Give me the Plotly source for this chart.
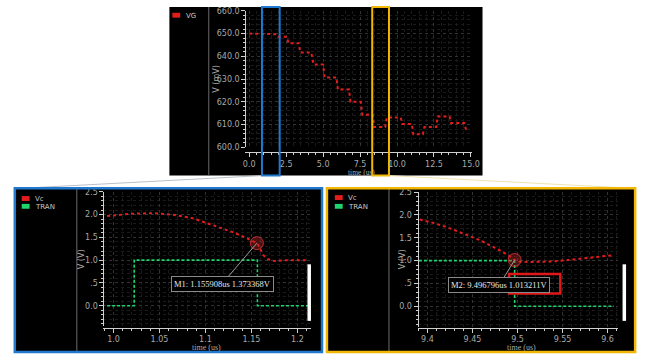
import plotly.graph_objects as go

W, H = 652, 360

# ---------------- data ----------------
vg_time = [0.0, 1.85, 1.95, 2.55, 2.65, 3.35, 3.45, 4.2, 4.35, 5.0, 5.1, 5.9, 6.0, 6.75, 6.85,
           7.55, 7.65, 8.35, 8.45, 9.2, 9.3, 10.25, 10.35, 11.0, 11.1, 11.75, 11.85, 12.65, 12.75,
           13.55, 13.65, 14.55, 14.7]
vg_mv = [650.0, 649.7, 648.6, 648.6, 645.7, 645.7, 641.7, 641.7, 636.4, 636.4, 630.7, 630.7, 625.4,
         625.4, 620.0, 620.0, 614.3, 614.3, 608.9, 608.9, 613.1, 613.1, 610.3, 610.3, 605.7, 605.7,
         608.9, 608.9, 613.6, 613.6, 610.7, 610.7, 606.9]

vc1_t = [0.993, 1.005, 1.021, 1.043, 1.064, 1.086, 1.107, 1.129, 1.143, 1.1559, 1.159, 1.1625,
         1.168, 1.175, 1.189, 1.212]
vc1_v = [1.97, 1.99, 2.02, 2.03, 2.0, 1.92, 1.78, 1.62, 1.5, 1.373, 1.28, 1.12, 1.02, 0.98, 1.0, 1.0]
tran1_t = [0.993, 1.0225, 1.0225, 1.1565, 1.1565, 1.212]
tran1_v = [0, 0, 1, 1, 0, 0]

vc2_t = [9.385, 9.404, 9.422, 9.44, 9.458, 9.476, 9.491, 9.4968, 9.502, 9.516, 9.538, 9.56,
         9.582, 9.607]
vc2_v = [1.93, 1.84, 1.73, 1.59, 1.45, 1.27, 1.10, 1.013, 0.975, 0.97, 0.98, 1.02, 1.07, 1.12]
tran2_t = [9.385, 9.4968, 9.4968, 9.607]
tran2_v = [1, 1, 0, 0]

m1 = (1.155908, 1.373368)
m2 = (9.496796, 1.013211)
m1_text = "M1: 1.155908us 1.373368V"
m2_text = "M2: 9.496796us 1.013211V"

top_xticks = [0, 2.5, 5, 7.5, 10, 12.5, 15]
top_xtext = ["0.0", "2.5", "5.0", "7.5", "10.0", "12.5", "15.0"]
top_yticks = [600, 610, 620, 630, 640, 650, 660]
top_ytext = ["600.0", "610.0", "620.0", "630.0", "640.0", "650.0", "660.0"]
l_xticks = [1.0, 1.05, 1.1, 1.15, 1.2]
l_xtext = ["1.0", "1.05", "1.1", "1.15", "1.2"]
r_xticks = [9.4, 9.45, 9.5, 9.55, 9.6]
r_xtext = ["9.4", "9.45", "9.5", "9.55", "9.6"]
b_yticks = [0, 0.5, 1.0, 1.5, 2.0, 2.5]
b_ytext = ["0.0", ".5", "1.0", "1.5", "2.0", "2.5"]

RED = "#e31c1c"
GREEN = "#1fd46c"
BLUE = "#2079cf"
ORANGE = "#f2b705"
FONT = "DejaVu Sans"
SERIF = "Liberation Serif"

def px(x):
    return x / W

def py(y):
    return 1 - y / H

fig = go.Figure()
fig.add_trace(go.Scatter(x=vg_time, y=vg_mv, mode="lines", line=dict(color=RED, width=2, dash="dot"),
                         xaxis="x", yaxis="y"))
fig.add_trace(go.Scatter(x=tran1_t, y=tran1_v, mode="lines", line=dict(color=GREEN, width=1.6, dash="3px,2px"),
                         xaxis="x2", yaxis="y2"))
fig.add_trace(go.Scatter(x=vc1_t, y=vc1_v, mode="lines", line=dict(color=RED, width=2, dash="dot"),
                         xaxis="x2", yaxis="y2"))
fig.add_trace(go.Scatter(x=tran2_t, y=tran2_v, mode="lines", line=dict(color=GREEN, width=1.6, dash="3px,2px"),
                         xaxis="x3", yaxis="y3"))
fig.add_trace(go.Scatter(x=vc2_t, y=vc2_v, mode="lines", line=dict(color=RED, width=2, dash="dot"),
                         xaxis="x3", yaxis="y3"))
for (mx, my), xa, ya in [(m1, "x2", "y2"), (m2, "x3", "y3")]:
    fig.add_trace(go.Scatter(x=[mx], y=[my], mode="markers", xaxis=xa, yaxis=ya,
                             marker=dict(size=13, color="rgba(190,40,40,0.40)",
                                         line=dict(color="rgba(220,60,60,0.8)", width=1))))

def axstyle(tickvals, ticktext, minor_dtick, rng, domain, **kw):
    d = dict(range=rng, domain=domain, tickmode="array", tickvals=tickvals, ticktext=ticktext,
             showline=True, linecolor="#d0d0d0", linewidth=1, ticks="outside", ticklen=4,
             tickcolor="#d0d0d0", tickfont=dict(family=FONT, size=8, color="#a8a8a8"),
             showgrid=True, gridcolor="#333333", griddash="dot", gridwidth=1, zeroline=False,
             minor=dict(tickmode="linear", tick0=0, dtick=minor_dtick, ticks="outside", ticklen=2,
                        tickcolor="#d0d0d0", showgrid=True, gridcolor="#1a1a1a", griddash="dot"),
             fixedrange=True)
    d.update(kw)
    return d

fig.update_layout(
    xaxis=axstyle(top_xticks, top_xtext, 0.5, [-0.27, 15.05], [px(247), px(477)],
                  anchor="free", position=py(152)),
    yaxis=axstyle(top_yticks, top_ytext, 2, [600, 660], [py(147), py(7)],
                  anchor="free", position=px(247)),
    xaxis2=axstyle(l_xticks, l_xtext, 0.01, [0.989, 1.215], [px(103), px(314)],
                   anchor="free", position=py(332)),
    yaxis2=axstyle(b_yticks, b_ytext, 0.1, [-0.45, 2.5], [py(330.5), py(192.6)],
                   anchor="free", position=px(103)),
    xaxis3=axstyle(r_xticks, r_xtext, 0.01, [9.389, 9.612], [px(422), px(626)],
                   anchor="free", position=py(332)),
    yaxis3=axstyle(b_yticks, b_ytext, 0.1, [-0.45, 2.5], [py(331), py(193)],
                   anchor="free", position=px(422)),
)

shapes = []
for x0, y0, x1, y1 in [(170, 3, 488, 176), (13, 189, 325, 358), (330, 189, 643, 358)]:
    shapes.append(dict(type="rect", xref="paper", yref="paper", x0=px(x0), x1=px(x1), y0=py(y1), y1=py(y0),
                       fillcolor="#000000", line=dict(width=0), layer="below"))
for x, y0, y1 in [(210, 3, 176), (76, 189, 358), (393, 189, 358)]:
    shapes.append(dict(type="line", xref="paper", yref="paper", x0=px(x), x1=px(x), y0=py(y0), y1=py(y1),
                       line=dict(color="#6a6a6a", width=1), layer="below"))
shapes.append(dict(type="line", xref="paper", yref="paper", x0=px(264), y0=py(176), x1=px(20), y1=py(189),
                   line=dict(color="#b8c0c8", width=1)))
shapes.append(dict(type="line", xref="paper", yref="paper", x0=px(393), y0=py(176), x1=px(640), y1=py(189),
                   line=dict(color="#f0e2b0", width=1)))
for x0, y0, col in [(173, 9, RED), (20, 197, RED), (20, 205, GREEN), (338, 196, RED), (338, 205, GREEN)]:
    shapes.append(dict(type="rect", xref="paper", yref="paper", x0=px(x0), x1=px(x0 + 8), y0=py(y0 + 5),
                       y1=py(y0), fillcolor=col, line=dict(width=0)))
for x in [312, 632]:
    shapes.append(dict(type="line", xref="paper", yref="paper", x0=px(x), x1=px(x), y0=py(267), y1=py(325),
                       line=dict(color="#ffffff", width=3.5)))
shapes.append(dict(type="rect", xref="paper", yref="paper", x0=px(264), x1=px(282), y0=py(176), y1=py(3),
                   line=dict(color=BLUE, width=2)))
shapes.append(dict(type="rect", xref="paper", yref="paper", x0=px(376), x1=px(393), y0=py(176), y1=py(3),
                   line=dict(color=ORANGE, width=2)))
shapes.append(dict(type="rect", xref="paper", yref="paper", x0=px(13), x1=px(325), y0=py(357), y1=py(189),
                   line=dict(color=BLUE, width=2.5)))
shapes.append(dict(type="rect", xref="paper", yref="paper", x0=px(330), x1=px(643), y0=py(357), y1=py(189),
                   line=dict(color=ORANGE, width=2.5)))
shapes.append(dict(type="rect", xref="paper", yref="paper", x0=px(515), x1=px(567), y0=py(297), y1=py(277),
                   line=dict(color="#e01818", width=2.5)))

ann = []
def txt(x, y, s, size=8, color="#c8c8c8", angle=0, xanchor="left", family=FONT):
    ann.append(dict(xref="paper", yref="paper", x=px(x), y=py(y), text=s, showarrow=False,
                    xanchor=xanchor, yanchor="middle", textangle=angle,
                    font=dict(family=family, size=size, color=color)))

txt(185, 12, "VG", size=7)
txt(31, 199.5, "Vc", size=7)
txt(31, 208, "TRAN", size=7)
txt(349, 198.5, "Vc", size=7)
txt(349, 208, "TRAN", size=7)
txt(217, 77, "V (mV)", angle=-90, xanchor="center", color="#a8a8a8")
txt(365, 173, "time (us)", size=7.5, xanchor="center", color="#a8a8a8", family=SERIF)
txt(81, 262, "V (V)", angle=-90, xanchor="center", color="#a8a8a8")
txt(208, 352, "time (us)", size=8, xanchor="center", color="#a8a8a8", family=SERIF)
txt(407, 262, "V (V)", angle=-90, xanchor="center", color="#a8a8a8")
txt(528, 352, "time (us)", size=8, xanchor="center", color="#a8a8a8", family=SERIF)

for m, xa, ya, tx, ty, t in [(m1, "x2", "y2", 1.118, 0.48, m1_text), (m2, "x3", "y3", 9.48, 0.47, m2_text)]:
    ann.append(dict(xref=xa, yref=ya, x=m[0], y=m[1], axref=xa, ayref=ya, ax=tx, ay=ty,
                    text=t, showarrow=True, arrowhead=0, arrowcolor="#9a9a9a", arrowwidth=1,
                    font=dict(family=SERIF, size=8.5, color="#e8e8e8"), bgcolor="#000000",
                    bordercolor="#8a8a8a", borderwidth=1, borderpad=2))

fig.update_layout(autosize=True, margin=dict(l=0, r=0, t=0, b=0),
                  paper_bgcolor="#ffffff", plot_bgcolor="rgba(0,0,0,0)", showlegend=False,
                  shapes=shapes, annotations=ann)

post = ("var s=document.createElement('style');"
        "s.textContent='html,body{margin:0;padding:0;overflow:hidden;}';"
        "document.head.appendChild(s);"
        "var d=document.getElementById('{plot_id}');"
        "d.style.position='fixed';d.style.left='0px';d.style.top='0px';"
        "d.style.width='100vw';d.style.height='100vh';"
        "Plotly.Plots.resize(d);")
fig.write_html("out.html", post_script=post, config={"displayModeBar": False, "responsive": True},
               default_width="100vw", default_height="100vh")
